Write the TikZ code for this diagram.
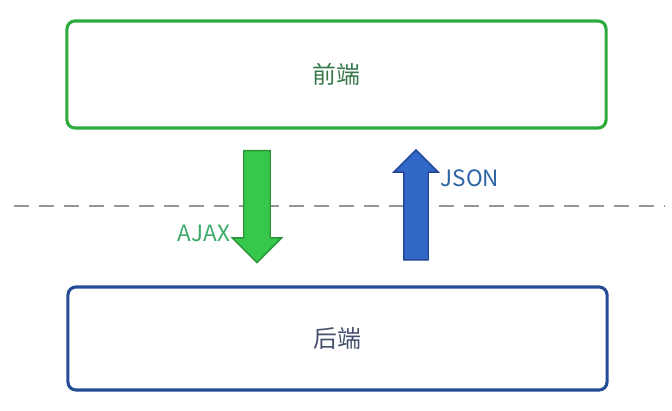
\documentclass[tikz,border=0pt]{standalone}
\usepackage{fontspec}
\setmainfont{Noto Sans CJK SC}
\usetikzlibrary{positioning,shapes.arrows}
\definecolor{feline}{RGB}{45,170,60}
\definecolor{fetext}{RGB}{55,120,75}
\definecolor{feaccent}{RGB}{55,200,75}
\definecolor{feborder}{RGB}{40,150,55}
\definecolor{beline}{RGB}{35,75,150}
\definecolor{betext}{RGB}{70,80,110}
\definecolor{beaccent}{RGB}{50,105,200}
\definecolor{beborder}{RGB}{35,70,150}
\definecolor{ajaxcol}{RGB}{60,170,105}
\definecolor{jsoncol}{RGB}{45,100,165}
\definecolor{sepline}{RGB}{150,150,150}

\begin{document}
\begin{tikzpicture}[x=0.025cm, y=-0.025cm,
  layer/.style={draw=#1, line width=2.2pt, rounded corners=0.2cm,
                minimum width=13.475cm, inner sep=0pt,
                font=\fontsize{17}{20}\selectfont},
  flow/.style={single arrow, draw=#1border, fill=#1accent, line width=1pt,
               inner xsep=0pt, single arrow head indent=0pt},
  tag/.style={font=\fontsize{16}{19}\selectfont, text=#1, inner sep=1pt},
]
\useasboundingbox (0,0) rectangle (672,411);

\node[layer=feline, minimum height=2.675cm, text=fetext] (front) at (336.5,74.5) {前端};
\node[layer=beline, minimum height=2.575cm, text=betext] (back)  at (337.5,338.5) {后端};

% dashed boundary between the two layers
\coordinate (sepL) at (14,206);
\coordinate (sepR) at (665,206);
\draw[sepline, line width=1.4pt, dash pattern=on 0.375cm off 0.25cm] (sepL) -- (sepR);

\node[flow=fe, rotate=-90, minimum height=2.8cm, inner ysep=0.3125cm,
      single arrow head extend=0.2875cm] (req) at (257,200) {};
\node[flow=be, rotate=90, minimum height=2.75cm, inner ysep=0.2875cm,
      single arrow head extend=0.25cm] (resp) at (416,211) {};

\node[tag=ajaxcol, anchor=east] (ajax) at (232,233) {AJAX};
\node[tag=jsoncol, anchor=west] (json) at (439,178) {JSON};
\end{tikzpicture}
\end{document}
